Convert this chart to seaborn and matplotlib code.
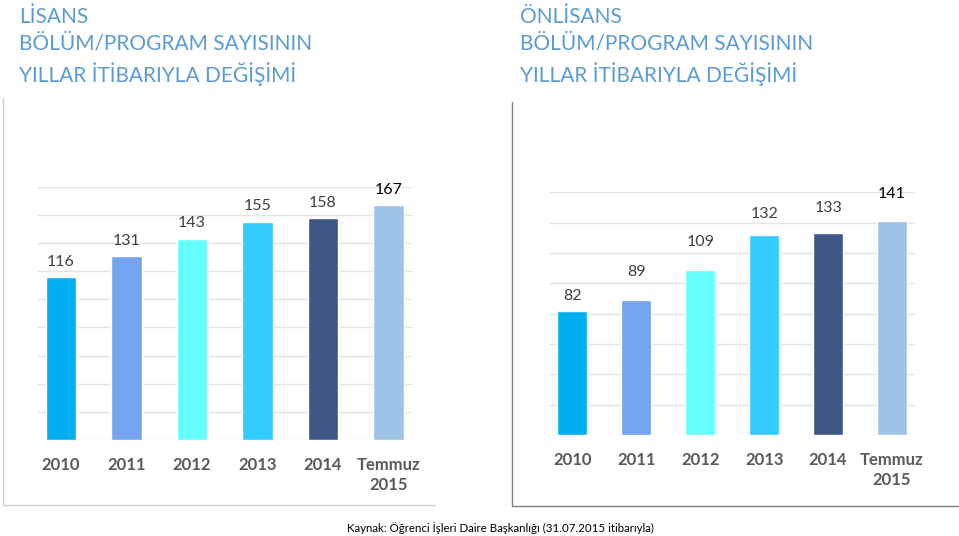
import matplotlib
matplotlib.use("Agg")
import matplotlib.pyplot as plt
from matplotlib.lines import Line2D
import seaborn as sns
import pandas as pd

# Data
years = ["2010", "2011", "2012", "2013", "2014", "Temmuz\n2015"]
lisans = [116, 131, 143, 155, 158, 167]
onlisans = [82, 89, 109, 132, 133, 141]
bar_colors = ["#00B0F0", "#74A4EE", "#66FFFF", "#33CCFF", "#3F5784", "#9DC3E6"]

lisans_title = "LİSANS\nBÖLÜM/PROGRAM SAYISININ\nYILLAR İTİBARIYLA DEĞİŞİMİ"
onlisans_title = "ÖNLİSANS\nBÖLÜM/PROGRAM SAYISININ\nYILLAR İTİBARIYLA DEĞİŞİMİ"
source = "Kaynak: Öğrenci İşleri Daire Başkanlığı (31.07.2015 itibarıyla)"

sns.set_style("white")
plt.rcParams["font.family"] = ["Lato", "DejaVu Sans"]

W, H = 959, 536
fig = plt.figure(figsize=(W / 100, H / 100), dpi=100)


def px_axes(x0, y_top, x1, y_bot):
    return fig.add_axes([x0 / W, 1 - y_bot / H, (x1 - x0) / W, (y_bot - y_top) / H])


def draw(ax, values, ymax, label_offsets):
    df = pd.DataFrame({"year": years, "value": values})
    sns.barplot(data=df, x="year", y="value", hue="year", palette=bar_colors,
                saturation=1, width=0.47, legend=False, ax=ax, zorder=3)
    ax.set_ylim(0, ymax)
    ax.set_xlim(-0.35, 5.36)
    ax.set_yticks(range(0, ymax + 1, 20))
    ax.yaxis.grid(True, color="#E3E3E3", linewidth=1.0, zorder=0)
    ax.set_axisbelow(True)
    ax.tick_params(axis="y", left=False, labelleft=False)
    ax.tick_params(axis="x", bottom=False, colors="#595959", pad=9)
    for lbl in ax.get_xticklabels():
        lbl.set_fontweight("bold")
        lbl.set_fontsize(12)
        lbl.set_linespacing(1.25)
    ax.set_xlabel("")
    ax.set_ylabel("")
    sns.despine(ax=ax, left=True, bottom=True)
    for i, (v, off) in enumerate(zip(values, label_offsets)):
        color = "black" if i == len(values) - 1 else "#404040"
        ax.annotate(str(v), (i, v), xytext=(0, off * 0.72), textcoords="offset points",
                    ha="center", va="center", fontsize=11.5, color=color)


ax1 = px_axes(38, 186.7, 412, 440)
draw(ax1, lisans, 180, [15, 15, 15.5, 15.5, 15, 15])

ax2 = px_axes(550, 192.3, 915, 435)
draw(ax2, onlisans, 160, [14.5, 28, 28, 21, 25.5, 27])

# Titles
title_color = "#5B9BD5"
fig.text(19 / W, 1 - 7 / H, lisans_title, ha="left", va="top", fontsize=15,
         color=title_color, linespacing=1.42)
fig.text(520 / W, 1 - 7 / H, onlisans_title, ha="left", va="top", fontsize=15,
         color=title_color, linespacing=1.42)

# Frame lines around the two panels
fig.add_artist(Line2D([3 / W, 3 / W], [1 - 98 / H, 1 - 505 / H], color="#D0D0D0", lw=1))
fig.add_artist(Line2D([3 / W, 435 / W], [1 - 505 / H, 1 - 505 / H], color="#D0D0D0", lw=1))
fig.add_artist(Line2D([511.7 / W, 511.7 / W], [1 - 102 / H, 1 - 506 / H], color="#808080", lw=1))
fig.add_artist(Line2D([511.7 / W, 1], [1 - 506 / H, 1 - 506 / H], color="#808080", lw=1))

# Source
fig.text(500 / W, 1 - 528 / H, source, ha="center", va="center", fontsize=8.3, color="black")

fig.savefig("out.png", dpi=100)
